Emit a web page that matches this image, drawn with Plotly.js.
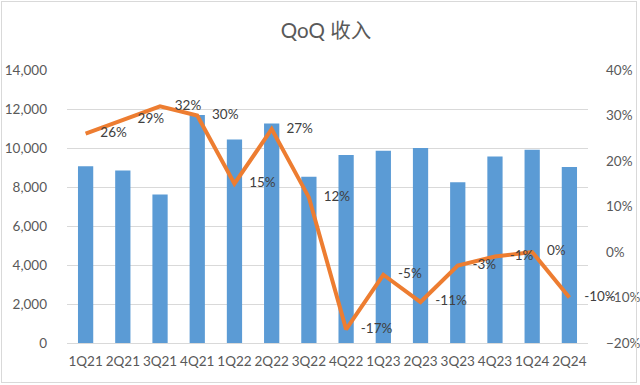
<!DOCTYPE html>
<html>
<head>
<meta charset="utf-8">
<script src="https://cdn.plot.ly/plotly-3.0.1.min.js"></script>
<style>
html,body{margin:0;padding:0;background:#fff;}
#chart{width:640px;height:385px;}
</style>
</head>
<body>
<div id="chart"></div>
<script>
const quarters = ["1Q21","2Q21","3Q21","4Q21","1Q22","2Q22","3Q22","4Q22","1Q23","2Q23","3Q23","4Q23","1Q24","2Q24"];
const revenue = [9060, 8840, 7620, 11690, 10440, 11260, 8530, 9640, 9860, 10000, 8240, 9560, 9910, 9030];
const qoqGrowth = [0.26, 0.29, 0.32, 0.30, 0.15, 0.27, 0.12, -0.17, -0.05, -0.11, -0.03, -0.01, 0.00, -0.10];
const titleText = "QoQ 收入";

const fontFam = "Lato, 'Noto Sans CJK SC', sans-serif";
const grey = "#595959";

const data = [
  {
    type: "bar",
    x: quarters,
    y: revenue,
    marker: {color: "#5B9BD5"},
    hoverinfo: "skip",
    showlegend: false
  },
  {
    type: "scatter",
    mode: "lines+markers+text",
    x: quarters,
    y: qoqGrowth,
    yaxis: "y2",
    line: {color: "#ED7D31", width: 4},
    marker: {size: 22, opacity: 0, color: "#ED7D31"},
    texttemplate: "%{y:.0%}",
    textposition: "middle right",
    textfont: {family: fontFam, size: 13.5, color: "#404040"},
    cliponaxis: false,
    hoverinfo: "skip",
    showlegend: false
  }
];

const layout = {
  width: 640,
  height: 385,
  paper_bgcolor: "#ffffff",
  plot_bgcolor: "#ffffff",
  margin: {l: 67, r: 52, t: 70, b: 42, autoexpand: false},
  bargap: 0.59,
  font: {family: fontFam, color: grey, size: 13.5},
  title: {
    text: titleText,
    font: {family: fontFam, size: 20.5, color: grey},
    x: 0.497, xref: "paper", xanchor: "center",
    y: 0.92, yref: "container", yanchor: "middle"
  },
  xaxis: {
    type: "category",
    range: [-0.5, quarters.length - 0.5],
    automargin: false,
    showgrid: false,
    zeroline: false,
    showline: false,
    ticks: "",
    tickangle: 0,
    ticklabelstandoff: 8,
    tickfont: {family: fontFam, size: 13.5, color: grey},
    fixedrange: true
  },
  yaxis: {
    automargin: false,
    range: [0, 14000],
    dtick: 2000,
    tickformat: ",d",
    showgrid: true,
    gridcolor: "#D9D9D9",
    gridwidth: 1,
    zeroline: true,
    zerolinecolor: "#D9D9D9",
    zerolinewidth: 1,
    showline: false,
    ticks: "",
    ticklabelstandoff: 19,
    tickfont: {family: fontFam, size: 13.5, color: grey},
    fixedrange: true
  },
  yaxis2: {
    automargin: false,
    overlaying: "y",
    side: "right",
    range: [-0.2, 0.4],
    dtick: 0.1,
    tickformat: ".0%",
    showgrid: false,
    zeroline: false,
    showline: false,
    ticks: "",
    ticklabelstandoff: 17,
    tickfont: {family: fontFam, size: 13.5, color: grey},
    fixedrange: true
  }
};

const border = document.createElement("div");
border.style.cssText = "position:absolute;left:1px;top:1px;width:636px;height:382px;border:1px solid #D9D9D9;pointer-events:none;box-sizing:border-box;";
document.body.style.position = "relative";

Plotly.newPlot("chart", data, layout, {displayModeBar: false, staticPlot: true}).then(() => {
  document.body.appendChild(border);
});
</script>
</body>
</html>
